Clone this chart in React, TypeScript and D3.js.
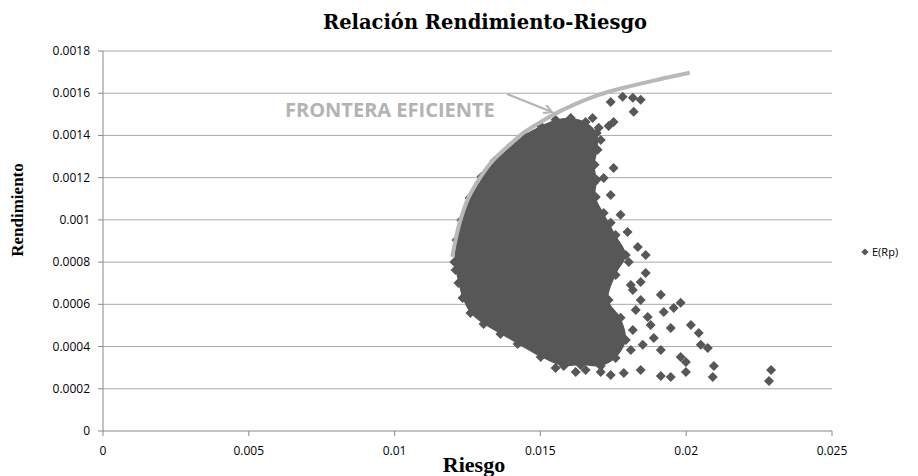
import React from "react";
import * as d3 from "d3";

const W = 918;
const H = 476;

const xTicks = [0, 0.005, 0.01, 0.015, 0.02, 0.025];
const xTickLabels = ["0", "0.005", "0.01", "0.015", "0.02", "0.025"];
const yTicks = [0, 0.0002, 0.0004, 0.0006, 0.0008, 0.001, 0.0012, 0.0014, 0.0016, 0.0018];
const yTickLabels = ["0", "0.0002", "0.0004", "0.0006", "0.0008", "0.001", "0.0012", "0.0014", "0.0016", "0.0018"];

// Efficient frontier (riesgo, rendimiento)
const frontier: [number, number][] = [
  [0.01198, 0.000825], [0.01209, 0.000905], [0.01226, 0.001], [0.01253, 0.001104],
  [0.01295, 0.001204], [0.01339, 0.001284], [0.01387, 0.001346], [0.01442, 0.001412],
  [0.01501, 0.001464], [0.01556, 0.001507], [0.01614, 0.001545], [0.0170, 0.001592],
  [0.01786, 0.001626], [0.01902, 0.001664], [0.02012, 0.001697],
];

// Outline of the dense cloud of E(Rp) portfolios (riesgo, rendimiento)
const cloudOutline: [number, number][] = [
  [0.01205, 0.000801], [0.01212, 0.000905], [0.01229, 0.001], [0.01257, 0.001104],
  [0.01298, 0.001204], [0.01343, 0.00128], [0.01391, 0.001341], [0.01446, 0.001403],
  [0.01501, 0.001445], [0.01552, 0.001474], [0.01604, 0.001483], [0.01655, 0.001464],
  [0.01693, 0.001412], [0.01696, 0.001332], [0.01686, 0.001261], [0.01693, 0.00119],
  [0.0169, 0.001109], [0.01717, 0.001033], [0.01758, 0.000929], [0.01793, 0.000834],
  [0.01758, 0.000739], [0.01734, 0.000621], [0.01775, 0.000536], [0.01793, 0.000431],
  [0.01758, 0.000346], [0.01707, 0.000308], [0.01638, 0.000313], [0.0158, 0.000308],
  [0.01501, 0.000351], [0.01422, 0.000412], [0.01363, 0.00046], [0.01305, 0.000507],
  [0.0126, 0.000559], [0.01233, 0.00063], [0.01219, 0.000701], [0.01209, 0.000763],
];

// Scattered E(Rp) portfolios outside the dense cloud
const outliers: [number, number][] = [
  [0.01741, 0.001559], [0.01782, 0.001583], [0.01817, 0.001578], [0.01844, 0.001569],
  [0.0182, 0.001512], [0.01751, 0.001464], [0.01734, 0.001445], [0.01679, 0.001483],
  [0.01707, 0.001379], [0.01672, 0.001299], [0.01751, 0.001246], [0.01717, 0.001199],
  [0.01683, 0.001175], [0.01741, 0.001118], [0.01775, 0.001024], [0.01741, 0.000986],
  [0.01799, 0.000943], [0.01834, 0.000872], [0.01861, 0.000834], [0.01861, 0.000749],
  [0.01913, 0.000645], [0.01981, 0.000607], [0.01957, 0.000583], [0.01868, 0.00054],
  [0.02016, 0.000502], [0.01947, 0.000488], [0.02043, 0.000464], [0.01889, 0.000441],
  [0.02074, 0.000393], [0.0205, 0.000408], [0.01981, 0.000351], [0.01999, 0.000327],
  [0.02095, 0.000308], [0.02091, 0.000256], [0.01999, 0.00028], [0.01913, 0.000261],
  [0.01947, 0.000256], [0.01844, 0.000289], [0.01786, 0.000275], [0.02291, 0.000289],
  [0.02284, 0.000237], [0.0181, 0.000692], [0.01844, 0.000621], [0.01817, 0.000479],
  [0.01913, 0.000384], [0.01707, 0.00028], [0.01655, 0.000289],
  [0.01803, 0.000801], [0.01817, 0.000668], [0.01827, 0.000573], [0.0181, 0.000384],
  [0.01851, 0.000408], [0.01878, 0.000502], [0.01923, 0.000564], [0.01844, 0.000706],
  [0.01741, 0.000265], [0.01621, 0.00028], [0.01552, 0.000299], [0.017, 0.001436],
];

const PT = "#575757";

export default function App() {
  const x = d3.scaleLinear().domain([0, 0.025]).range([103, 832]);
  const y = d3.scaleLinear().domain([0, 0.0018]).range([431, 51]);

  const frontierPath = d3
    .line<[number, number]>()
    .x((d) => x(d[0]))
    .y((d) => y(d[1]))
    .curve(d3.curveCatmullRom)(frontier) as string;

  const cloudPath = d3
    .line<[number, number]>()
    .x((d) => x(d[0]))
    .y((d) => y(d[1]))
    .curve(d3.curveCatmullRomClosed)(cloudOutline) as string;

  const diamond = d3.symbol(d3.symbolSquare, 50)() as string;
  const legendDiamond = d3.symbol(d3.symbolSquare, 26)() as string;

  const allPts = [...cloudOutline, ...outliers];

  // annotation arrow
  const ax1 = 507, ay1 = 94, ax2 = 552, ay2 = 112;
  const ang = Math.atan2(ay2 - ay1, ax2 - ax1);
  const hl = 9;
  const h1 = [ax2 - hl * Math.cos(ang - 0.5), ay2 - hl * Math.sin(ang - 0.5)];
  const h2 = [ax2 - hl * Math.cos(ang + 0.5), ay2 - hl * Math.sin(ang + 0.5)];

  return (
    <svg
      width={W}
      height={H}
      style={{ position: "absolute", left: 0, top: 0, background: "#fff" }}
    >
      <rect x={0} y={0} width={W} height={H} fill="#fff" />
      {/* gridlines */}
      {yTicks.slice(1).map((t) => (
        <line key={t} x1={x(0)} x2={x(0.025)} y1={y(t)} y2={y(t)} stroke="#a9a9a9" strokeWidth={1} />
      ))}
      {/* axes */}
      <line x1={x(0)} x2={x(0)} y1={y(0)} y2={y(0.0018)} stroke="#888" />
      <line x1={x(0)} x2={x(0.025)} y1={y(0)} y2={y(0)} stroke="#888" />
      {yTicks.map((t, i) => (
        <g key={"y" + t}>
          <line x1={x(0) - 5} x2={x(0)} y1={y(t)} y2={y(t)} stroke="#888" />
          <text x={90} y={y(t) + 4} textAnchor="end" fontFamily="Open Sans" fontSize={12} fill="#000">
            {yTickLabels[i]}
          </text>
        </g>
      ))}
      {xTicks.map((t, i) => (
        <g key={"x" + t}>
          <line x1={x(t)} x2={x(t)} y1={y(0)} y2={y(0) + 5} stroke="#888" />
          <text x={x(t)} y={455} textAnchor="middle" fontFamily="Open Sans" fontSize={12} fill="#000">
            {xTickLabels[i]}
          </text>
        </g>
      ))}

      {/* dense cloud */}
      <path d={cloudPath} fill={PT} />
      {allPts.map((d, i) => (
        <path key={i} d={diamond} transform={`translate(${x(d[0])},${y(d[1])}) rotate(45)`} fill={PT} />
      ))}

      {/* frontier */}
      <path d={frontierPath} fill="none" stroke="#b8b8b8" strokeWidth={4} strokeLinecap="butt" />

      {/* annotation */}
      <text x={285} y={117} fontFamily="Open Sans" fontWeight="bold" fontSize={20} fill="#b3b3b3">
        FRONTERA EFICIENTE
      </text>
      <line x1={ax1} y1={ay1} x2={ax2} y2={ay2} stroke="#b3b3b3" strokeWidth={2} />
      <polyline points={`${h1[0]},${h1[1]} ${ax2},${ay2} ${h2[0]},${h2[1]}`} fill="none" stroke="#b3b3b3" strokeWidth={2} />

      {/* title & axis labels */}
      <text x={485} y={29} textAnchor="middle" fontFamily="DejaVu Serif" fontWeight="bold" fontSize={19.5} fill="#000">
        Relación Rendimiento-Riesgo
      </text>
      <text
        transform={`translate(23,210) rotate(-90)`}
        textAnchor="middle"
        fontFamily="Liberation Serif"
        fontWeight="bold"
        fontSize={17}
        fill="#000"
      >
        Rendimiento
      </text>
      <text x={474} y={472} textAnchor="middle" fontFamily="Liberation Serif" fontWeight="bold" fontSize={22} fill="#000">
        Riesgo
      </text>

      {/* legend */}
      <path d={legendDiamond} transform={`translate(865,252) rotate(45)`} fill={PT} />
      <text x={872} y={256} fontFamily="Open Sans" fontSize={11} fill="#000">
        E(Rp)
      </text>
    </svg>
  );
}
